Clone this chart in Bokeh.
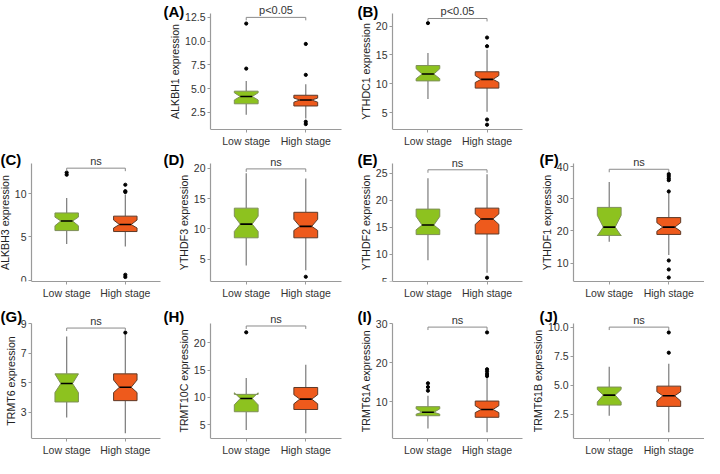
from bokeh.plotting import figure
from bokeh.models import Range1d, FixedTicker, Spacer
from bokeh.core.properties import value
from bokeh.layouts import column, row
from bokeh.embed import file_html
from bokeh.resources import INLINE

groups = ["Low stage", "High stage"]
genes = ["ALKBH1", "YTHDC1", "ALKBH3", "YTHDF3", "YTHDF2",
         "YTHDF1", "TRMT6", "TRMT10C", "TRMT61A", "TRMT61B"]
tags = ["(A)", "(B)", "(C)", "(D)", "(E)", "(F)", "(G)", "(H)", "(I)", "(J)"]
pvals = ["p<0.05", "p<0.05", "ns", "ns", "ns", "ns", "ns", "ns", "ns", "ns"]

# y-axis extents and ticks
y_lo = [0.68, 2.07, -0.15, 1.32, 5.0, 4.26, 1.22, 2.46, 0.64, 0.43]
y_hi = [12.93, 22.2, 13.5, 20.79, 26.76, 41.0, 9.06, 23.6, 30.24, 10.35]
bracket_y = [12.5, 21.3, 12.96, 19.9, 25.6, 39.2, 8.72, 23.06, 29.2, 10.0]
y_ticks = [[2.5, 5, 7.5, 10, 12.5], [5, 10, 15, 20], [0, 5, 10], [5, 10, 15, 20],
           [5, 10, 15, 20, 25], [10, 20, 30, 40], [3, 5, 7, 9], [5, 10, 15, 20],
           [10, 20, 30], [2.5, 5, 7.5, 10]]
y_tick_labels = [["2.5", "5.0", "7.5", "10.0", "12.5"], ["5", "10", "15", "20"],
                 ["0", "5", "10"], ["5", "10", "15", "20"], ["5", "10", "15", "20", "25"],
                 ["10", "20", "30", "40"], ["3", "5", "7", "9"], ["5", "10", "15", "20"],
                 ["10", "20", "30"], ["2.5", "5.0", "7.5", "10.0"]]

# Low stage box statistics
low_q1 = [3.39, 10.49, 5.74, 8.53, 13.65, 18.61, 3.70, 7.36, 6.48, 3.30]
low_med = [4.16, 11.68, 6.85, 10.79, 15.41, 21.19, 4.95, 9.79, 7.36, 4.16]
low_q3 = [4.72, 13.15, 7.78, 13.42, 18.35, 27.33, 5.61, 10.54, 8.80, 4.85]
low_nlo = [3.79, 10.87, 6.30, 9.58, 14.53, 18.50, 4.34, 8.63, 6.88, 3.57]
low_nhi = [4.55, 12.60, 7.30, 12.10, 17.00, 24.85, 5.60, 10.83, 8.24, 4.64]
low_wlo = [2.24, 7.34, 4.19, 3.95, 8.94, 16.63, 2.64, 4.02, 3.20, 2.39]
low_whi = [5.78, 15.33, 9.52, 19.20, 24.06, 35.25, 8.15, 13.54, 11.60, 6.60]
low_out = [[7.1, 11.85], [20.5], [12.2, 12.45], [], [], [], [], [21.9],
           [12.9, 13.84, 14.8], []]

# High stage box statistics
high_q1 = [3.16, 9.24, 5.63, 8.53, 13.76, 18.91, 3.79, 7.77, 6.08, 3.19]
high_med = [3.79, 10.76, 6.44, 10.42, 16.53, 21.19, 4.70, 9.67, 8.08, 4.10]
high_q3 = [4.29, 12.07, 7.41, 12.74, 18.53, 24.16, 5.61, 11.80, 10.24, 4.93]
high_nlo = [3.56, 10.22, 6.04, 9.74, 15.53, 19.90, 4.34, 8.81, 7.28, 3.65]
high_nhi = [3.99, 11.41, 6.96, 11.58, 17.47, 22.57, 5.19, 10.48, 9.04, 4.45]
high_wlo = [1.85, 5.16, 3.90, 3.16, 6.60, 12.50, 1.58, 3.44, 2.24, 0.97]
high_whi = [5.45, 15.90, 9.90, 18.30, 24.80, 31.80, 8.30, 15.96, 16.24, 6.86]
high_out = [[1.25, 1.5, 6.44, 9.7], [2.9, 3.8, 16.5, 18.0], [0.37, 0.63, 10.2, 10.3, 11.04],
            [2.1], [5.7], [5.5, 8.0, 10.8, 32.3, 35.8, 36.4, 37.1, 37.7], [8.41], [],
            [16.64, 17.2, 17.84, 18.4, 27.84], [7.8, 9.54]]

FILL = ["#8DC21F", "#EE5A1C"]
EDGE = ["#7E8F58", "#5E3A28"]
FONT = "Liberation Sans"
HALF_W = 0.2
X_LO, X_HI = 0.4, 2.6

# layout geometry (pixels)
col_w = [163, 194, 176, 171]
col_left = [31, 47, 35, 40]     # y-axis position inside the panel
col_right = [3, 16, 11, 0]
tag_dx = [0, 0, 0, 6]
row_h = [149, 153, 156]
row_top = [13, 14, 21]          # axis top inside the panel
row_bottom = [18, 21, 17]
tag_down = [2, 1, 5]


def make_panel(i, c, r):
    fw = col_w[c] - col_right[c]               # frame width (starts at panel left)
    fh = row_h[r] - row_bottom[r]              # frame height (starts at panel top)
    ppx = (fw - col_left[c]) / (X_HI - X_LO)
    ppy = (fh - row_top[r]) / (y_hi[i] - y_lo[i])
    x_start = X_LO - col_left[c] / ppx
    y_end = y_hi[i] + row_top[r] / ppy

    p = figure(width=col_w[c], height=row_h[r], output_backend="svg", toolbar_location=None,
               x_range=Range1d(x_start, X_HI), y_range=Range1d(y_lo[i], y_end),
               min_border_left=0, min_border_right=col_right[c],
               min_border_top=0, min_border_bottom=row_bottom[r])
    p.outline_line_color = None
    p.grid.visible = False
    p.background_fill_color = "white"
    p.border_fill_color = "white"

    for ax in (p.xaxis[0], p.yaxis[0]):
        ax.axis_line_color = "#9a9a9a"
        ax.axis_line_width = 1.2
        ax.major_tick_line_color = "#9a9a9a"
        ax.major_tick_in = 0
        ax.major_tick_out = 3
        ax.minor_tick_line_color = None
        ax.major_label_standoff = 2
        ax.major_label_text_font = FONT
        ax.major_label_text_font_size = "10.5px"
        ax.major_label_text_color = "#333333"
    p.xaxis.ticker = FixedTicker(ticks=[1, 2])
    p.xaxis.major_label_overrides = {1: groups[0], 2: groups[1]}
    p.xaxis.bounds = (X_LO, X_HI)
    p.yaxis.ticker = FixedTicker(ticks=y_ticks[i])
    p.yaxis.major_label_overrides = {t: l for t, l in zip(y_ticks[i], y_tick_labels[i])}
    p.yaxis.bounds = (y_lo[i], y_hi[i])
    p.yaxis.fixed_location = X_LO
    p.yaxis.axis_label = genes[i] + " expression"
    p.yaxis.axis_label_text_font = FONT
    p.yaxis.axis_label_text_font_size = "10.6px"
    p.yaxis.axis_label_text_font_style = "normal"
    p.yaxis.axis_label_text_color = "#222222"
    p.yaxis.axis_label_standoff = 1

    stats = [
        (low_q1[i], low_med[i], low_q3[i], low_nlo[i], low_nhi[i], low_wlo[i], low_whi[i], low_out[i]),
        (high_q1[i], high_med[i], high_q3[i], high_nlo[i], high_nhi[i], high_wlo[i], high_whi[i], high_out[i]),
    ]
    xs, ys, wx, wy0, wy1, mx0, mx1, my, ox, oy = [], [], [], [], [], [], [], [], [], []
    for k, (q1, med, q3, nlo, nhi, wlo, whi, outs) in enumerate(stats):
        x = k + 1
        xs.append([x - HALF_W, x - HALF_W, x - HALF_W / 2, x - HALF_W, x - HALF_W,
                   x + HALF_W, x + HALF_W, x + HALF_W / 2, x + HALF_W, x + HALF_W])
        ys.append([q3, nhi, med, nlo, q1, q1, nlo, med, nhi, q3])
        wx += [x, x]
        wy0 += [q3, q1]
        wy1 += [whi, wlo]
        mx0.append(x - HALF_W / 2)
        mx1.append(x + HALF_W / 2)
        my.append(med)
        ox += [x] * len(outs)
        oy += list(outs)

    p.segment(x0=wx, x1=wx, y0=wy0, y1=wy1, line_color="#7a7a7a", line_width=1.2)
    p.patches(xs=xs, ys=ys, fill_color=FILL, line_color=EDGE, line_width=1)
    p.segment(x0=mx0, x1=mx1, y0=my, y1=my, line_color="black", line_width=1.6)
    if ox:
        p.scatter(x=ox, y=oy, size=3.2, color="black")

    d = 3 / ppy
    b = bracket_y[i]
    p.line(x=[1, 1, 2, 2], y=[b - d, b, b, b - d], line_color="#8a8a8a", line_width=1)
    p.text(x=[1.5], y=[b], text=[pvals[i]], text_align="center", text_baseline="bottom",
           y_offset=-1, text_font=value(FONT), text_font_size="11px", text_color="#333333")
    p.text(x=[x_start], y=[y_end], text=[tags[i]], text_align="left", text_baseline="top",
           x_offset=tag_dx[c], y_offset=tag_down[r], text_font=value(FONT),
           text_font_size="15px", text_font_style="bold", text_color="black")
    return p


row1 = row(Spacer(width=col_w[0], height=row_h[0]), make_panel(0, 1, 0), make_panel(1, 2, 0),
           Spacer(width=col_w[3], height=row_h[0]), spacing=0)
row2 = row(*[make_panel(2 + c, c, 1) for c in range(4)], spacing=0)
row3 = row(*[make_panel(6 + c, c, 2) for c in range(4)], spacing=0)
layout = column(row1, row2, row3, spacing=0)

open("out.html", "w").write(file_html(layout, INLINE))
